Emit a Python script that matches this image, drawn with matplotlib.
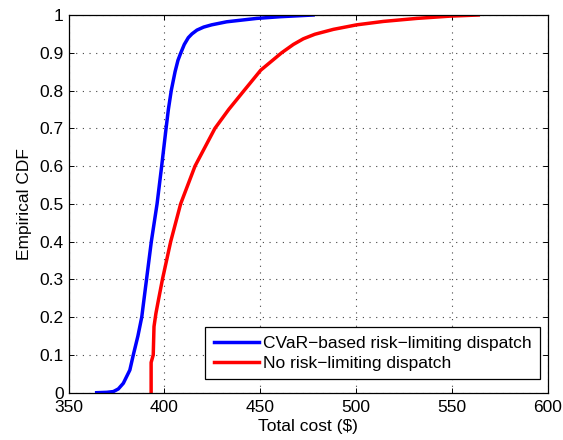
import matplotlib
matplotlib.use("Agg")
import matplotlib.pyplot as plt

plt.rcParams['font.family'] = ['Liberation Sans', 'DejaVu Sans']

# CDF: cost values (x) at cumulative probability (y)
cvar_cost = [364.7, 370.0, 373.4, 376.0, 378.6, 382.0, 383.8, 386.2, 388.2, 390.7,
             393.2, 396.2, 398.6, 400.9, 402.1, 403.6, 405.6, 407.1, 408.6, 410.4,
             412.5, 414.4, 417.0, 420.5, 424.7, 432.5, 448.2, 460.4, 477.6]
cvar_cdf = [0.0, 0.001, 0.003, 0.01, 0.025, 0.06, 0.1, 0.15, 0.2, 0.3,
            0.4, 0.5, 0.6, 0.7, 0.75, 0.8, 0.85, 0.88, 0.9, 0.922,
            0.94, 0.95, 0.96, 0.968, 0.974, 0.982, 0.991, 0.9955, 1.0]

norisk_cost = [393.1, 393.1, 394.2, 394.6, 395.6, 396.9, 399.0, 403.3, 408.5, 416.0,
               426.4, 433.6, 441.6, 450.3, 461.2, 467.3, 472.5, 478.5, 488.2, 500.4,
               514.3, 531.7, 549.0, 563.8]
norisk_cdf = [0.0, 0.08, 0.1, 0.175, 0.21, 0.245, 0.3, 0.4, 0.5, 0.6,
              0.7, 0.75, 0.8, 0.854, 0.9, 0.922, 0.937, 0.949, 0.962, 0.974,
              0.983, 0.991, 0.997, 1.0]

series_labels = ['CVaR\u2212based risk\u2212limiting dispatch', 'No risk\u2212limiting dispatch']
xticks = [350, 400, 450, 500, 550, 600]
yticks = [0, 0.1, 0.2, 0.3, 0.4, 0.5, 0.6, 0.7, 0.8, 0.9, 1]
ytick_labels = ['0', '0.1', '0.2', '0.3', '0.4', '0.5', '0.6', '0.7', '0.8', '0.9', '1']

FS = 12.5
fig = plt.figure(figsize=(5.63, 4.40), dpi=100)
ax = fig.add_axes([0.1217, 0.1075, 0.8511, 0.8584])

ax.plot(cvar_cost, cvar_cdf, color='#0000ff', lw=2.5, label=series_labels[0])
ax.plot(norisk_cost, norisk_cdf, color='#ff0000', lw=2.5, label=series_labels[1])

ax.set_xlim(350, 600)
ax.set_ylim(0, 1)
ax.set_xticks(xticks)
ax.set_yticks(yticks)
ax.set_yticklabels(ytick_labels)
ax.tick_params(direction='in', top=True, right=True, labelsize=FS, length=3.8, width=0.7)
ax.tick_params(axis='x', pad=5)
ax.tick_params(axis='y', pad=3.5)
ax.grid(True, linestyle=(0, (1, 5)), color='#444444', linewidth=0.8)
for s in ax.spines.values():
    s.set_linewidth(0.9)

ax.set_xlabel('Total cost ($)', fontsize=FS, labelpad=3)
ax.set_ylabel('Empirical CDF', fontsize=FS, labelpad=5)

leg = ax.legend(loc='lower right', bbox_to_anchor=(0.9839, 0.0355), fontsize=FS,
                fancybox=False, framealpha=1, edgecolor='black', borderaxespad=0.0,
                handlelength=2.6, handletextpad=0.2, borderpad=0.5, labelspacing=0.28)
leg.get_frame().set_linewidth(0.9)

fig.savefig('out.png', dpi=100)
